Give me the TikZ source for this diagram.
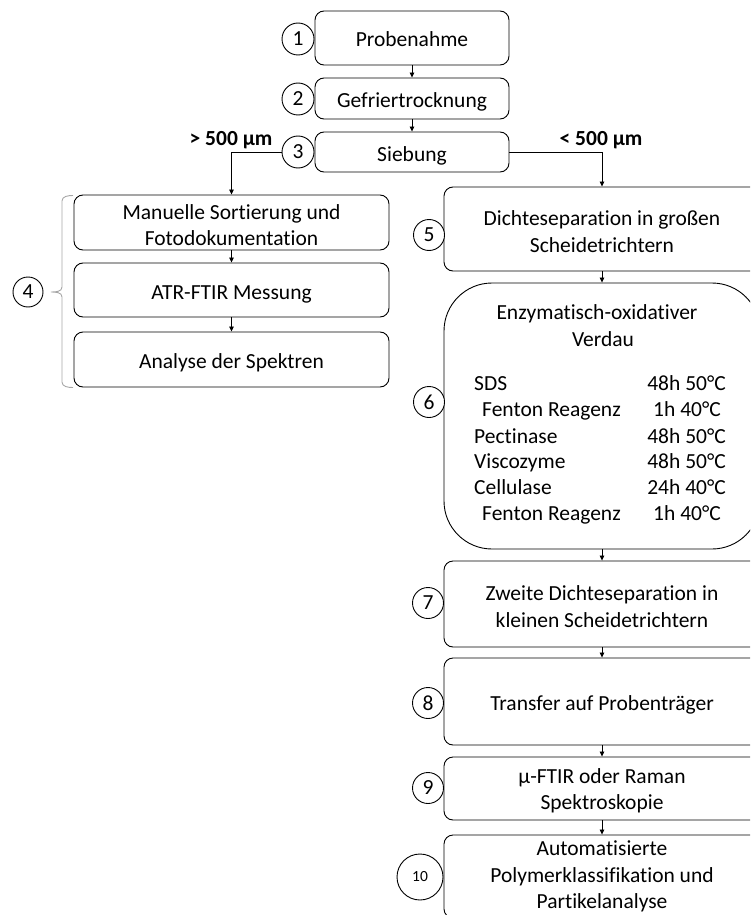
\documentclass[tikz,border=0pt]{standalone}
\usepackage{fontspec}
\setmainfont{Carlito}[Ligatures=NoCommon]
\usetikzlibrary{arrows.meta}
\newcommand\mainfs{\fontsize{21.5}{26.3}\selectfont}
\newcommand\smallfs{\fontsize{15.5}{18}\selectfont}
\newcommand\onel{\rule[-5pt]{0pt}{28pt}}
\newcommand\firstl{\rule{0pt}{20pt}}
\begin{document}
\begin{tikzpicture}[x=1pt,y=-1pt,
  box/.style={draw,line width=0.9pt,rounded corners=9pt,inner sep=0pt,align=center,font=\mainfs,minimum width=#1},
  box/.default=194pt,
  num/.style={draw,circle,line width=0.9pt,inner sep=0pt,minimum size=32pt,font=\mainfs,fill=white},
  arr/.style={line width=0.8pt,-{Triangle[length=5pt,width=4.5pt]}},
  lbl/.style={font=\mainfs\bfseries,inner sep=0pt},
  tc/.style={font=\mainfs,inner sep=0pt,anchor=base},
  tl/.style={font=\mainfs,inner sep=0pt,anchor=base west},
  tr/.style={font=\mainfs,inner sep=0pt,anchor=base east},
  brace/.style={draw=black!35,line width=0.9pt}]
\useasboundingbox (0,0) rectangle (750,915);
\clip (0,0) rectangle (750,915);

% top column
\node[box,minimum height=54pt] (b1) at (412,38) {\onel Probenahme};
\node[box,minimum height=41pt] (b2) at (412,98.5) {\onel Gefriertrocknung};
\node[box,minimum height=40pt] (b3) at (412,152) {\onel Siebung};
\node[num] (c1) at (298,39) {1};
\node[num] (c2) at (298,99) {2};
\node[num] (c3) at (298,152) {3};

\node[lbl] (l1) at (231,140) {> 500 µm};
\node[lbl] (l2) at (601,140) {< 500 µm};

% left column
\node[box=315pt,minimum height=55pt] (b4a) at (231.5,222.5) {\firstl Manuelle Sortierung und\\Fotodokumentation};
\node[box=315pt,minimum height=54pt] (b4b) at (231.5,290) {\onel ATR-FTIR Messung};
\node[box=315pt,minimum height=55pt] (b4c) at (231.5,359.5) {\onel Analyse der Spektren};
\node[num,minimum size=30pt] (c4) at (28,292) {4};
\path[brace] (73,195.5) to[out=180,in=90] (62,201) -- (62,287)
  to[out=-90,in=0] (51,292) to[out=0,in=90] (62,297) -- (62,382)
  to[out=-90,in=180] (73,387.5);

% right column
\node[box=316pt,minimum height=84pt] (b5) at (602,229) {\firstl Dichteseparation in großen\\Scheidetrichtern};
\node[box=316pt,minimum height=266pt,rounded corners=48pt] (b6) at (602,416) {};
\node[box=316pt,minimum height=86pt] (b7) at (602,604) {\firstl Zweite Dichteseparation in\\kleinen Scheidetrichtern};
\node[box=316pt,minimum height=87pt] (b8) at (602,701.5) {\onel Transfer auf Probenträger};
\node[box=316pt,minimum height=63pt] (b9) at (602,788.5) {\firstl µ-FTIR oder Raman\\Spektroskopie};
\node[box=316pt,minimum height=83pt] (b10) at (602,876.5) {Automatisierte\\Polymerklassifikation und\\Partikelanalyse};

\node[num,minimum size=31pt] (c5) at (429,235) {5};
\node[num,minimum size=31pt] (c6) at (429,402) {6};
\node[num,minimum size=31pt] (c7) at (428,603) {7};
\node[num,minimum size=31pt] (c8) at (428,703) {8};
\node[num,minimum size=31pt] (c9) at (428,788) {9};
\node[num,minimum size=46pt,font=\smallfs] (c10) at (420,877) {10};

% box 6 contents
\node[tc] (t6a) at (597,319) {Enzymatisch-oxidativer};
\node[tc] (t6b) at (603,346) {Verdau};
\node[tl] (r1a) at (474,390) {SDS};
\node[tr] (r1b) at (726,390) {48h 50°C};
\node[tl] (r2a) at (482,416.5) {Fenton Reagenz};
\node[tr] (r2b) at (721,416.5) {1h 40°C};
\node[tl] (r3a) at (474,443) {Pectinase};
\node[tr] (r3b) at (726,443) {48h 50°C};
\node[tl] (r4a) at (474,468.5) {Viscozyme};
\node[tr] (r4b) at (726,468.5) {48h 50°C};
\node[tl] (r5a) at (474,494) {Cellulase};
\node[tr] (r5b) at (726,494) {24h 40°C};
\node[tl] (r6a) at (482,520) {Fenton Reagenz};
\node[tr] (r6b) at (721,520) {1h 40°C};

% connectors
\draw[arr] (b1) -- (b2);
\draw[arr] (b2) -- (b3);
\draw[arr] (c3.west) -| (b4a.north);
\draw[arr] (b3.east) -| (b5.north);
\draw[arr] (b4a) -- (b4b);
\draw[arr] (b4b) -- (b4c);
\draw[arr] (b5) -- (b6);
\draw[arr] (b6) -- (b7);
\draw[arr] (b7) -- (b8);
\draw[arr] (b8) -- (b9);
\draw[arr] (b9) -- (b10);
\end{tikzpicture}
\end{document}
